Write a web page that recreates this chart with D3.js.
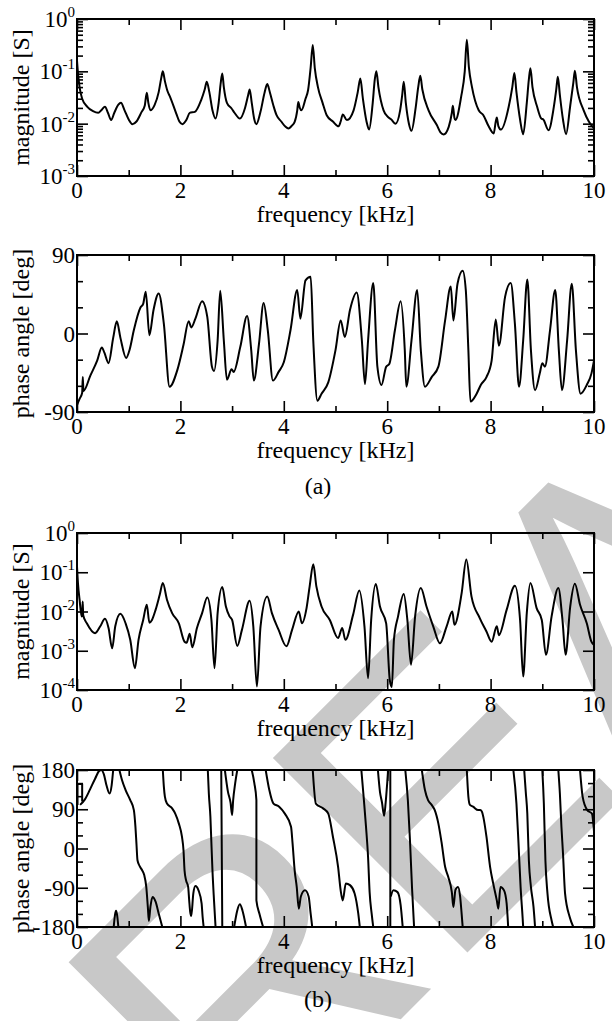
<!DOCTYPE html>
<html lang="en">
<head>
<meta charset="utf-8">
<title>admittance spectra</title>
<script src="https://cdn.jsdelivr.net/npm/d3@7"></script>
<style>
body{margin:0;background:#fff;}
svg text{font-family:"Liberation Serif","Times New Roman",serif;fill:#000;}
</style>
</head>
<body>
<svg id="chart" width="612" height="1021"></svg>
<script>
// ---- data: [frequency kHz, value] ----
var freqTicks = [0, 2, 4, 6, 8, 10]
var freqMinor = [1, 3, 5, 7, 9]

// (a) magnitude [S]
var magA = [[0,0.16],[0.02,0.09],[0.05,0.05],[0.1,0.03],[0.2,0.021],[0.31,0.0173],[0.41,0.0161],[0.48,0.0185],[0.54,0.021],[0.6,0.016],[0.66,0.0117],[0.72,0.016],[0.8,0.023],[0.85,0.025],[0.92,0.018],[1.0,0.012],[1.07,0.0098],[1.15,0.011],[1.25,0.0168],[1.31,0.022],[1.35,0.039],[1.38,0.025],[1.42,0.018],[1.5,0.0226],[1.58,0.04],[1.63,0.075],[1.66,0.10],[1.7,0.065],[1.75,0.042],[1.8,0.0326],[1.92,0.0156],[1.98,0.011],[2.04,0.0098],[2.12,0.012],[2.18,0.0161],[2.28,0.0168],[2.4,0.028],[2.47,0.045],[2.51,0.063],[2.56,0.04],[2.62,0.018],[2.68,0.0125],[2.74,0.025],[2.78,0.06],[2.81,0.091],[2.84,0.05],[2.9,0.025],[2.99,0.0195],[3.05,0.016],[3.15,0.0125],[3.25,0.02],[3.31,0.035],[3.34,0.045],[3.38,0.025],[3.43,0.012],[3.47,0.0098],[3.55,0.017],[3.63,0.04],[3.68,0.057],[3.73,0.04],[3.8,0.022],[3.86,0.0145],[3.95,0.011],[4.03,0.0088],[4.09,0.0081],[4.15,0.009],[4.21,0.0108],[4.26,0.018],[4.28,0.026],[4.31,0.02],[4.34,0.018],[4.42,0.03],[4.47,0.044],[4.52,0.12],[4.56,0.32],[4.6,0.114],[4.66,0.05],[4.75,0.025],[4.83,0.0145],[4.95,0.011],[5.06,0.0089],[5.1,0.011],[5.14,0.015],[5.22,0.0117],[5.35,0.018],[5.43,0.04],[5.48,0.073],[5.53,0.03],[5.6,0.011],[5.65,0.0077],[5.72,0.025],[5.76,0.07],[5.79,0.1],[5.83,0.05],[5.93,0.018],[6.0,0.0139],[6.08,0.012],[6.16,0.01],[6.25,0.018],[6.29,0.035],[6.32,0.063],[6.36,0.025],[6.42,0.01],[6.47,0.0073],[6.55,0.02],[6.6,0.05],[6.64,0.082],[6.68,0.045],[6.8,0.018],[6.96,0.0094],[7.03,0.0068],[7.09,0.0062],[7.19,0.0087],[7.25,0.016],[7.27,0.022],[7.3,0.013],[7.32,0.0117],[7.43,0.0326],[7.5,0.1],[7.54,0.40],[7.58,0.12],[7.64,0.05],[7.77,0.018],[7.86,0.0145],[7.96,0.009],[8.06,0.0065],[8.1,0.011],[8.12,0.0131],[8.15,0.009],[8.2,0.0077],[8.35,0.021],[8.42,0.05],[8.46,0.0925],[8.5,0.04],[8.57,0.012],[8.63,0.0063],[8.7,0.025],[8.74,0.07],[8.77,0.114],[8.81,0.05],[8.9,0.021],[8.98,0.0125],[9.02,0.012],[9.12,0.0075],[9.22,0.02],[9.27,0.045],[9.3,0.079],[9.34,0.035],[9.4,0.012],[9.46,0.0063],[9.54,0.022],[9.6,0.06],[9.63,0.1025],[9.67,0.05],[9.8,0.018],[9.9,0.011],[10.0,0.0081]]

// (a) phase angle [deg]
var phaseA = [[0,-82],[0.05,-75],[0.1,-68],[0.112,-50],[0.125,-66],[0.26,-48],[0.39,-31],[0.48,-16],[0.53,-22],[0.61,-34],[0.7,-5],[0.77,14],[0.84,-5],[0.95,-28],[1.02,-18],[1.1,4],[1.23,30],[1.28,34],[1.33,48],[1.4,-2],[1.48,27],[1.58,46],[1.68,11],[1.79,-61],[1.94,-42],[2.06,-13],[2.16,14],[2.21,7],[2.29,17],[2.42,37],[2.52,19],[2.61,-38],[2.65,-43],[2.72,-8],[2.77,49],[2.84,-8],[2.9,-53],[2.99,-41],[3.03,-44],[3.16,-15],[3.29,20],[3.37,-19],[3.42,-54],[3.52,-12],[3.61,35],[3.69,4],[3.79,-54],[3.9,-44],[4.0,-33],[4.13,4],[4.26,50],[4.32,17],[4.42,61],[4.52,65],[4.57,-8],[4.65,-77],[4.73,-69],[4.86,-56],[5.0,-19],[5.1,15],[5.18,-4],[5.28,27],[5.41,47],[5.51,-8],[5.57,-58],[5.63,-8],[5.73,58],[5.81,-38],[5.89,-59],[5.98,-38],[6.04,-35],[6.15,4],[6.26,37],[6.34,-19],[6.37,-61],[6.47,-8],[6.58,50],[6.65,-19],[6.73,-61],[6.86,-50],[6.99,-38],[7.12,15],[7.23,54],[7.28,15],[7.36,57],[7.46,72],[7.52,50],[7.57,-19],[7.61,-78],[7.73,-69],[7.81,-59],[7.92,-50],[8.02,-31],[8.1,16],[8.16,-14],[8.28,42],[8.39,58],[8.47,11],[8.55,-61],[8.63,-8],[8.71,62],[8.78,-19],[8.86,-65],[8.95,-46],[9.0,-34],[9.05,-38],[9.15,4],[9.25,50],[9.32,-19],[9.38,-65],[9.48,-8],[9.57,57],[9.65,-19],[9.74,-69],[9.86,-59],[9.95,-46],[10,-31]]

// (b) magnitude [S]
var magB = [[0,0.14],[0.02,0.05],[0.05,0.02],[0.09,0.0075],[0.1,0.008],[0.11,0.018],[0.12,0.008],[0.19,0.005],[0.35,0.0028],[0.45,0.0042],[0.54,0.0065],[0.61,0.0038],[0.68,0.00115],[0.74,0.0042],[0.84,0.0087],[0.94,0.005],[1.03,0.0019],[1.12,0.00036],[1.19,0.0019],[1.28,0.0061],[1.35,0.0148],[1.4,0.0052],[1.45,0.0061],[1.52,0.011],[1.6,0.0267],[1.66,0.053],[1.74,0.02],[1.84,0.0091],[1.97,0.005],[2.08,0.0017],[2.12,0.0016],[2.18,0.0027],[2.23,0.00123],[2.32,0.0038],[2.42,0.0091],[2.52,0.0228],[2.6,0.0061],[2.66,0.00036],[2.72,0.0091],[2.81,0.0418],[2.88,0.0134],[2.95,0.0075],[3.0,0.0061],[3.1,0.00133],[3.19,0.0034],[3.34,0.0187],[3.41,0.0042],[3.48,0.000123],[3.55,0.0042],[3.68,0.024],[3.77,0.0091],[3.9,0.0034],[4.05,0.0013],[4.16,0.0034],[4.29,0.01],[4.35,0.005],[4.44,0.0122],[4.5,0.0435],[4.57,0.16],[4.63,0.0435],[4.73,0.0134],[4.89,0.0061],[5.05,0.0021],[5.13,0.0038],[5.19,0.0019],[5.34,0.0082],[5.46,0.0344],[5.56,0.0042],[5.63,0.0002],[5.69,0.0061],[5.78,0.05],[5.86,0.0134],[5.98,0.005],[6.05,0.00018],[6.09,0.00012],[6.13,0.0019],[6.21,0.0075],[6.32,0.028],[6.39,0.0061],[6.46,0.00044],[6.54,0.0075],[6.65,0.0395],[6.76,0.0134],[6.89,0.0042],[7.02,0.00155],[7.15,0.0042],[7.26,0.01],[7.3,0.0046],[7.44,0.0294],[7.53,0.21],[7.63,0.0242],[7.79,0.0068],[7.92,0.0031],[8.02,0.0017],[8.12,0.0042],[8.16,0.0025],[8.31,0.011],[8.47,0.0455],[8.57,0.0061],[8.63,0.00022],[8.7,0.0091],[8.77,0.053],[8.89,0.0122],[8.99,0.0061],[9.07,0.00079],[9.18,0.0075],[9.31,0.0395],[9.39,0.0061],[9.45,0.00079],[9.54,0.0134],[9.63,0.051],[9.73,0.0148],[9.86,0.005],[9.95,0.0017],[10,0.0014]]

// (b) phase angle [deg], wrapped, one list per drawn piece
var phaseB = [
  [[0.01,100],[0.01,148],[0.1,148],[0.1,108]],
  [[0.06,100],[0.15,112],[0.25,135],[0.35,160],[0.43,178],[0.47,180],[0.52,170],[0.57,145],[0.63,126],[0.67,145],[0.7,180]],
  [[0.71,-180],[0.735,-152],[0.755,-143],[0.775,-152],[0.8,-180]],
  [[0.82,180],[0.87,157],[0.94,134],[1.03,111],[1.1,88],[1.13,50],[1.15,11],[1.17,-27],[1.21,-40],[1.26,-50],[1.3,-61],[1.34,-88],[1.37,-134],[1.39,-166],[1.42,-134],[1.46,-111],[1.52,-122],[1.58,-149],[1.65,-180]],
  [[1.66,180],[1.68,142],[1.7,119],[1.74,103],[1.84,92],[1.9,80],[1.97,57],[2.03,27],[2.06,-4],[2.08,-50],[2.11,-73],[2.15,-88],[2.17,-119],[2.19,-146],[2.21,-155],[2.25,-103],[2.29,-86],[2.35,-96],[2.41,-126],[2.43,-157],[2.45,-180]],
  [[2.53,180],[2.55,126],[2.58,73],[2.6,11],[2.62,-50],[2.65,-119],[2.68,-180]],
  [[2.79,180],[2.8,0],[2.81,-180]],
  [[2.86,180],[2.92,130],[2.97,105],[3.0,77],[3.02,110],[3.06,150],[3.1,180]],
  [[3.04,-180],[3.1,-142],[3.15,-128],[3.2,-142],[3.27,-180]],
  [[3.38,180],[3.43,150],[3.47,111],[3.47,-119],[3.53,-150],[3.6,-180]],
  [[3.65,180],[3.72,134],[3.8,103],[3.91,96],[4.02,80],[4.14,50],[4.17,11],[4.21,-50],[4.25,-88],[4.29,-138],[4.33,-110],[4.41,-96],[4.48,-110],[4.52,-150],[4.55,-180]],
  [[4.56,180],[4.62,103],[4.76,92],[4.86,80],[4.95,27],[5.05,-42],[5.1,-96],[5.14,-119],[5.2,-80],[5.28,-84],[5.37,-103],[5.44,-149],[5.47,-180]],
  [[5.5,180],[5.55,110],[5.59,50],[5.63,-20],[5.66,-100],[5.7,-150],[5.73,-180]],
  [[5.82,180],[5.86,130],[5.9,105],[5.94,75],[5.97,105],[6.0,150],[6.02,180]],
  [[6.06,180],[6.06,-180]],
  [[6.07,-110],[6.12,-96],[6.2,-100],[6.26,-130],[6.3,-180]],
  [[6.35,180],[6.4,110],[6.44,20],[6.48,-90],[6.52,-180]],
  [[6.67,180],[6.73,134],[6.79,111],[6.86,100],[6.92,88],[6.99,57],[7.05,15],[7.12,-42],[7.18,-65],[7.25,-100],[7.28,-134],[7.32,-95],[7.37,-88],[7.41,-110],[7.44,-150],[7.46,-180]],
  [[7.54,180],[7.57,119],[7.6,100],[7.66,96],[7.76,88],[7.8,88],[7.83,85],[7.86,72],[7.92,27],[7.99,-42],[8.05,-80],[8.12,-119],[8.15,-138],[8.19,-88],[8.26,-96],[8.31,-126],[8.34,-180]],
  [[8.44,180],[8.5,103],[8.54,11],[8.58,-88],[8.62,-160],[8.63,-180]],
  [[8.65,180],[8.68,130],[8.71,80],[8.74,-27],[8.78,-88],[8.83,-134],[8.86,-180]],
  [[9.0,180],[9.03,103],[9.06,-27],[9.1,-103],[9.18,-165],[9.21,-180]],
  [[9.31,180],[9.34,126],[9.37,50],[9.4,-11],[9.44,-103],[9.53,-157],[9.6,-180]],
  [[9.73,180],[9.78,119],[9.87,88],[9.96,80],[10.0,40]]
]

var magATicks = [1, 0.1, 0.01, 0.001]
var magBTicks = [1, 0.1, 0.01, 0.001, 0.0001]
var phaseATicks = [90, 0, -90]
var phaseBTicks = [180, 90, 0, -90, -180]

// ---- layout ----
var svg = d3.select("#chart")
var L = 77, R = 594, H = 157
var tops = [19, 255, 533, 770]

// watermark sits behind everything
svg.append("text")
    .attr("transform", "translate(240,1180) rotate(-45)")
    .style("font-family", "'Liberation Sans',Arial,sans-serif")
    .style("font-size", "400px")
    .style("fill", "#c8c8c8")
    .text("READ")

var x = d3.scaleLinear().domain([0, 10]).range([L, R])

function logMinors(lo, hi) {
    var out = []
    for (var e = lo; e < hi; e++) {
        for (var k = 2; k <= 9; k++) out.push(k * Math.pow(10, e))
    }
    return out
}

function panel(i, y, opts) {
    var top = tops[i], bot = top + H
    var g = svg.append("g")

    // ticks on all four sides, pointing inwards
    function ticks(vals, size, axis, tx, ty) {
        g.append("g").attr("transform", "translate(" + tx + "," + ty + ")")
            .call(axis.tickValues(vals).tickSize(-size).tickFormat(""))
            .call(function (s) { s.select(".domain").remove() })
            .selectAll("line").attr("stroke", "#000").attr("stroke-width", 1.6)
    }
    ticks(freqTicks, 11, d3.axisBottom(x), 0, bot)
    ticks(freqMinor, 6, d3.axisBottom(x), 0, bot)
    ticks(freqTicks, 11, d3.axisTop(x), 0, top)
    ticks(freqMinor, 6, d3.axisTop(x), 0, top)
    ticks(opts.major, 11, d3.axisLeft(y), L, 0)
    ticks(opts.major, 11, d3.axisRight(y), R, 0)
    if (opts.minor) {
        ticks(opts.minor, 6, d3.axisLeft(y), L, 0)
        ticks(opts.minor, 6, d3.axisRight(y), R, 0)
    }

    // clip for the curve
    g.append("clipPath").attr("id", "clip" + i)
        .append("rect").attr("x", L).attr("y", top).attr("width", R - L).attr("height", H)

    var line = d3.line()
        .x(function (d) { return x(d[0]) })
        .y(function (d) { return y(d[1]) })
        .curve(opts.curve || d3.curveLinear)

    g.append("g").attr("clip-path", "url(#clip" + i + ")")
        .selectAll("path")
        .data(opts.pieces)
        .enter()
        .append("path")
        .attr("d", line)
        .attr("fill", "none")
        .attr("stroke", "#000")
        .attr("stroke-width", 2)
        .attr("stroke-linejoin", "round")

    // frame
    g.append("rect").attr("x", L).attr("y", top).attr("width", R - L).attr("height", H)
        .attr("fill", "none").attr("stroke", "#000").attr("stroke-width", 2)

    // x labels
    g.selectAll(".xl").data(freqTicks).enter().append("text")
        .attr("x", function (d) { return x(d) })
        .attr("y", bot + 21.5)
        .attr("text-anchor", "middle")
        .style("font-size", "23px")
        .text(function (d) { return d })
    g.append("text")
        .attr("x", (L + R) / 2)
        .attr("y", bot + 46)
        .attr("text-anchor", "middle")
        .style("font-size", "24px")
        .text("frequency [kHz]")

    // y labels
    var yl = g.selectAll(".yl").data(opts.major).enter().append("text")
        .attr("x", L - 2)
        .attr("y", function (d) { return y(d) + 8 })
        .attr("text-anchor", "end")
        .style("font-size", "23px")
    if (opts.log) {
        yl.append("tspan").text("10")
        yl.append("tspan")
            .attr("dy", -10)
            .style("font-size", "15px")
            .text(function (d) { return Math.round(Math.log10(d)) })
    } else {
        yl.text(function (d) { return d })
    }
    g.append("text")
        .attr("transform", "translate(29," + (top + H / 2) + ") rotate(-90)")
        .attr("text-anchor", "middle")
        .style("font-size", "24px")
        .text(opts.title)
}

var y1 = d3.scaleLog().domain([1e-3, 1]).range([tops[0] + H, tops[0]])
var y2 = d3.scaleLinear().domain([-90, 90]).range([tops[1] + H, tops[1]])
var y3 = d3.scaleLog().domain([1e-4, 1]).range([tops[2] + H, tops[2]])
var y4 = d3.scaleLinear().domain([-180, 180]).range([tops[3] + H, tops[3]])

panel(0, y1, {major: magATicks, minor: logMinors(-3, 0), log: true, pieces: [magA], curve: d3.curveMonotoneX, title: "magnitude [S]"})
panel(1, y2, {major: phaseATicks, minor: [-60, -30, 30, 60], pieces: [phaseA], curve: d3.curveMonotoneX, title: "phase angle [deg]"})
panel(2, y3, {major: magBTicks, log: true, pieces: [magB], curve: d3.curveMonotoneX, title: "magnitude [S]"})
panel(3, y4, {major: phaseBTicks, minor: [-150, -120, -60, -30, 30, 60, 120, 150], pieces: phaseB, curve: d3.curveMonotoneX, title: "phase angle [deg]"})

svg.append("text").attr("x", 318).attr("y", tops[1] + H + 82).attr("text-anchor", "middle")
    .style("font-size", "24px").text("(a)")
svg.append("text").attr("x", 318).attr("y", tops[3] + H + 80).attr("text-anchor", "middle")
    .style("font-size", "24px").text("(b)")
</script>
</body>
</html>
